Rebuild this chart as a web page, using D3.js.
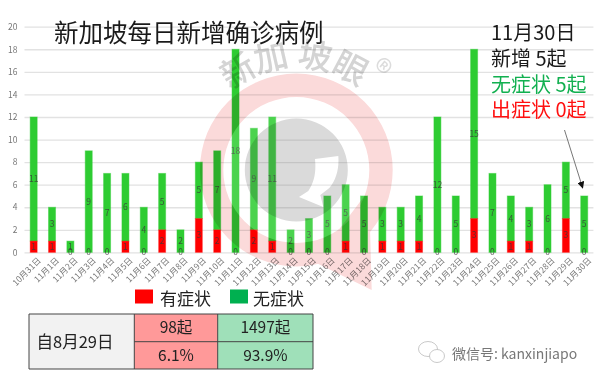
<html>
<head>
  <meta charset="utf-8">
  <title>新加坡每日新增确诊病例</title>
  <script src="https://d3js.org/d3.v7.min.js"></script>
  <style>
  body, html{
    margin: 0;
    background: white;
    overflow: hidden;
  }
  text{
    font-family: "Noto Sans CJK SC", "Noto Sans", sans-serif;
  }
  .axis path{
    display: none;
  }
  .axis--y line{
    stroke: #e2e2e2;
    stroke-width: 1.3;
  }
  .axis--x line{
    display: none;
  }
  .axis text{
    fill: #777;
    font-size: 8.5px;
  }
  .bar-label{
    fill: #3a3a3a;
    fill-opacity: 0.8;
    font-size: 8.5px;
    text-anchor: middle;
  }
  </style>
</head>
<body>
  <div id='chart'></div>
  <script>
  var days = ["10月31日","11月1日","11月2日","11月3日","11月4日","11月5日","11月6日","11月7日","11月8日","11月9日","11月10日","11月11日","11月12日","11月13日","11月14日","11月15日","11月16日","11月17日","11月18日","11月19日","11月20日","11月21日","11月22日","11月23日","11月24日","11月25日","11月26日","11月27日","11月28日","11月29日","11月30日"]
  var withSymptoms = [1,1,0,0,0,1,0,2,0,3,2,0,2,1,0,0,0,1,0,1,1,1,0,0,3,0,1,1,0,3,0]
  var noSymptoms = [11,3,1,9,7,6,4,5,2,5,7,18,9,11,2,3,5,5,5,3,3,4,12,5,15,7,4,3,6,5,5]
  var yTicks = [0,2,4,6,8,10,12,14,16,18,20]

  var summaryLines = [
    {text: "11月30日", color: "#1a1a1a", y: 33},
    {text: "新增 5起", color: "#1a1a1a", y: 59},
    {text: "无症状 5起", color: "#12b050", y: 85},
    {text: "出症状 0起", color: "#ff1010", y: 110}
  ]
  var legendItems = [
    {label: "有症状", color: "#ff0000", x: 135, gap: 25},
    {label: "无症状", color: "#00b050", x: 230, gap: 23}
  ]
  var tableCols = [29, 134.3, 217.7, 313]
  var tableRows = [314, 341.7, 369]
  var tableCells = [
    ["98起", "1497起"],
    ["6.1%", "93.9%"]
  ]

  var svg = d3.select("#chart").append("svg")
    .attr("width", 601)
    .attr("height", 380)

  var x = d3.scaleBand().domain(days).range([24.5, 593.4])
  var y = d3.scaleLinear().domain([0, 20]).range([252.4, 26.7])
  var barWidth = 7

  // grid comes from the y axis ticks
  svg.append("g")
    .attr("class", "axis axis--y")
    .attr("transform", "translate(24.5,0)")
    .call(d3.axisLeft(y).tickValues(yTicks).tickSize(-568.9).tickPadding(7))

  var xAxis = svg.append("g")
    .attr("class", "axis axis--x")
    .attr("transform", "translate(0,252.4)")
    .call(d3.axisBottom(x).tickSize(0))
  xAxis.selectAll("text")
    .attr("text-anchor", "end")
    .attr("dx", "0.35em")
    .attr("dy", "0.6em")
    .attr("transform", "translate(0,5) rotate(-45)")

  // stacked bars
  var bars = svg.append("g")
  days.forEach(function(d, i){
    var cx = x(d) + x.bandwidth() / 2
    var red = withSymptoms[i], green = noSymptoms[i]
    bars.append("rect")
      .attr("x", cx - barWidth / 2)
      .attr("width", barWidth)
      .attr("y", y(red + green))
      .attr("height", y(red) - y(red + green))
      .attr("fill", "#2ecc32")
      .attr("stroke", "#2ecc32")
      .attr("stroke-opacity", 0.45)
    if(red > 0){
      bars.append("rect")
        .attr("x", cx - barWidth / 2)
        .attr("width", barWidth)
        .attr("y", y(red))
        .attr("height", y(0) - y(red))
        .attr("fill", "#ff0000")
        .attr("stroke", "#ff0000")
        .attr("stroke-opacity", 0.35)
    }
  })

  var labels = svg.append("g")
  days.forEach(function(d, i){
    var cx = x(d) + x.bandwidth() / 2
    var red = withSymptoms[i], green = noSymptoms[i]
    labels.append("text").attr("class", "bar-label")
      .attr("x", cx).attr("y", y(red / 2)).attr("dy", "0.35em")
      .text(red)
    labels.append("text").attr("class", "bar-label")
      .attr("x", cx).attr("y", y(red + green / 2)).attr("dy", "0.35em")
      .text(green)
  })

  // 新加坡眼 stamp sits on top of the chart
  svg.append("circle")
    .attr("cx", 296.3).attr("cy", 170).attr("r", 73)
    .attr("fill", "white").attr("fill-opacity", 0.14)
  var stamp = svg.append("g")
    .attr("transform", "translate(296.3,170)")
    .style("mix-blend-mode", "multiply")
  stamp.append("path")
    .attr("fill", "#fbdada")
    .attr("d", "M-96.4,0A96.4,96.4 0 1,1 96.4,0A96.4,96.4 0 1,1 -96.4,0Z"
      + "M72.7,20L75.4,120L18,92Z"
      + "M-73,0A73,73 0 1,0 73,0A73,73 0 1,0 -73,0Z")
  stamp.append("path")
    .attr("fill", "#dadada")
    .attr("fill-rule", "evenodd")
    .attr("d", "M-51.5,0A51.5,51.5 0 1,1 51.5,0A51.5,51.5 0 1,1 -51.5,0Z"
      + "M18.7,-11L42,-14C43,-2 40,10 33,18L24,25L27,37L2.7,27L12,21C18,12 20,2 18.7,-11Z")
  var stampChars = [["新", -30.5], ["加", -12.8], ["坡", 9.5], ["眼", 28]]
  stampChars.forEach(function(c){
    stamp.append("text")
      .attr("transform", "rotate(" + c[1] + ") translate(0,-103)")
      .attr("text-anchor", "middle")
      .attr("fill", "#d4d4d4")
      .attr("font-size", 34)
      .attr("font-weight", 500)
      .text(c[0])
  })
  stamp.append("text")
    .attr("transform", "rotate(40) translate(0,-117)")
    .attr("text-anchor", "middle")
    .attr("fill", "#dcdcdc")
    .attr("font-size", 34)
    .text("®")

  // title and the day summary
  svg.append("text")
    .attr("x", 54).attr("y", 42)
    .attr("font-size", 24.5)
    .attr("font-weight", 400)
    .attr("fill", "#1a1a1a")
    .text("新加坡每日新增确诊病例")

  svg.selectAll(".summary")
    .data(summaryLines)
    .enter().append("text")
      .attr("class", "summary")
      .attr("x", 491)
      .attr("y", function(d){ return d.y })
      .attr("dy", "0.36em")
      .attr("font-size", 20)
      .attr("font-weight", 400)
      .attr("fill", function(d){ return d.color })
      .text(function(d){ return d.text })

  // arrow to the last bar
  svg.append("defs").append("marker")
    .attr("id", "head")
    .attr("viewBox", "0 0 10 10")
    .attr("refX", 9).attr("refY", 5)
    .attr("markerUnits", "userSpaceOnUse")
    .attr("markerWidth", 7).attr("markerHeight", 7)
    .attr("orient", "auto")
    .append("path").attr("d", "M0,0L10,5L0,10Z").attr("fill", "#111")
  svg.append("line")
    .attr("x1", 564.5).attr("y1", 130)
    .attr("x2", 582.7).attr("y2", 188)
    .attr("stroke", "#777")
    .attr("stroke-width", 1)
    .attr("marker-end", "url(#head)")

  // legend
  legendItems.forEach(function(d){
    svg.append("rect")
      .attr("x", d.x).attr("y", 289.5)
      .attr("width", 18).attr("height", 14)
      .attr("fill", d.color)
    svg.append("text")
      .attr("x", d.x + d.gap).attr("y", 299)
      .attr("dy", "0.36em")
      .attr("font-size", 17)
      .attr("font-weight", 400)
      .attr("fill", "#222")
      .text(d.label)
  })

  // summary table
  var table = svg.append("g")
  table.append("rect")
    .attr("x", tableCols[0]).attr("y", tableRows[0])
    .attr("width", tableCols[1] - tableCols[0])
    .attr("height", tableRows[2] - tableRows[0])
    .attr("fill", "#f2f2f2")
  var cellFills = ["#ff9999", "#9fe0b9"]
  cellFills.forEach(function(fill, c){
    table.append("rect")
      .attr("x", tableCols[c + 1]).attr("y", tableRows[0])
      .attr("width", tableCols[c + 2] - tableCols[c + 1])
      .attr("height", tableRows[2] - tableRows[0])
      .attr("fill", fill)
  })
  tableCols.forEach(function(cx){
    table.append("line")
      .attr("x1", cx).attr("x2", cx)
      .attr("y1", tableRows[0]).attr("y2", tableRows[2])
      .attr("stroke", "#444").attr("stroke-width", 1)
  })
  tableRows.forEach(function(ry, r){
    table.append("line")
      .attr("x1", r == 1 ? tableCols[1] : tableCols[0]).attr("x2", tableCols[3])
      .attr("y1", ry).attr("y2", ry)
      .attr("stroke", "#444").attr("stroke-width", 1)
  })
  table.append("text")
    .attr("x", 75).attr("y", 342)
    .attr("dy", "0.36em")
    .attr("text-anchor", "middle")
    .attr("font-size", 16.5)
    .attr("fill", "#222")
    .text("自8月29日")
  tableCells.forEach(function(row, r){
    row.forEach(function(cell, c){
      table.append("text")
        .attr("x", (tableCols[c + 1] + tableCols[c + 2]) / 2)
        .attr("y", (tableRows[r] + tableRows[r + 1]) / 2)
        .attr("dy", "0.36em")
        .attr("text-anchor", "middle")
        .attr("font-size", 15.5)
        .attr("fill", "#222")
        .text(cell)
    })
  })

  // wechat badge
  var badge = svg.append("g").attr("fill", "white").attr("stroke", "#bbb").attr("stroke-width", 0.8)
  badge.append("ellipse").attr("cx", 428).attr("cy", 349).attr("rx", 9.5).attr("ry", 7.5)
  badge.append("ellipse").attr("cx", 437).attr("cy", 356).attr("rx", 7.5).attr("ry", 6.5)
  svg.append("text")
    .attr("x", 452).attr("y", 353.5)
    .attr("dy", "0.36em")
    .attr("font-size", 14)
    .attr("fill", "#777")
    .text("微信号: kanxinjiapo")
  </script>
</body>
</html>
